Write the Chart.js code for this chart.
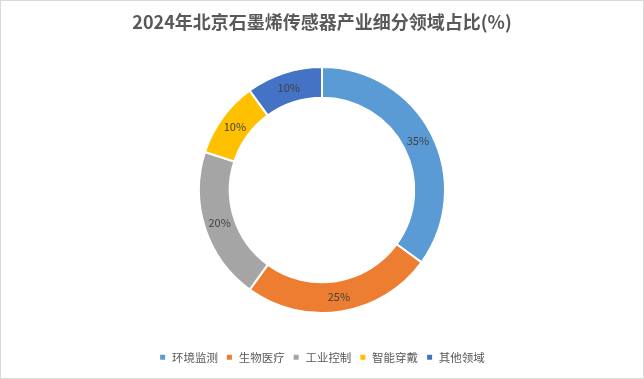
<!DOCTYPE html>
<html><head><meta charset="utf-8">
<script src="https://cdn.jsdelivr.net/npm/chart.js@4/dist/chart.umd.min.js"></script>
<style>
html,body{margin:0;padding:0;background:#fff;}
#wrap{position:relative;width:642px;height:377px;border:1px solid #d9d9d9;}
</style></head><body>
<div id="wrap"><canvas id="c" width="642" height="377"></canvas></div>
<script>
const categories = ['环境监测','生物医疗','工业控制','智能穿戴','其他领域'];
const shares = [35, 25, 20, 10, 10];
const colors = ['#5B9BD5','#ED7D31','#A5A5A5','#FFC000','#4472C4'];
const titleText = '2024年北京石墨烯传感器产业细分领域占比(%)';

const labelPlugin = {
  id:'sliceLabels',
  afterDatasetsDraw(chart){
    const ctx = chart.ctx;
    const meta = chart.getDatasetMeta(0);
    ctx.save();
    ctx.font = '11px "Noto Sans CJK SC", "DejaVu Sans", sans-serif';
    ctx.fillStyle = '#404040';
    ctx.textAlign = 'center';
    ctx.textBaseline = 'middle';
    meta.data.forEach((arc,i)=>{
      const p = arc.tooltipPosition();
      ctx.fillText(shares[i]+'%', p.x, p.y);
    });
    ctx.restore();
  }
};

new Chart(document.getElementById('c'), {
  type:'doughnut',
  data:{labels:categories, datasets:[{data:shares, backgroundColor:colors, borderColor:'#fff', borderWidth:2, radius:123}]},
  options:{
    responsive:false, animation:false, cutout:'75%',
    layout:{padding:{top:0,bottom:5}},
    plugins:{
      title:{display:true,text:titleText,color:'#595959',
        font:{size:18,weight:'bold',family:'"Noto Sans CJK SC", sans-serif'},padding:{top:10,bottom:4}},
      legend:{position:'bottom',labels:{boxWidth:7,boxHeight:7,color:'#595959',padding:8,
        font:{size:11.5,family:'"Noto Sans CJK SC", sans-serif'}}},
      tooltip:{enabled:false}
    }
  },
  plugins:[labelPlugin]
});
</script></body></html>
